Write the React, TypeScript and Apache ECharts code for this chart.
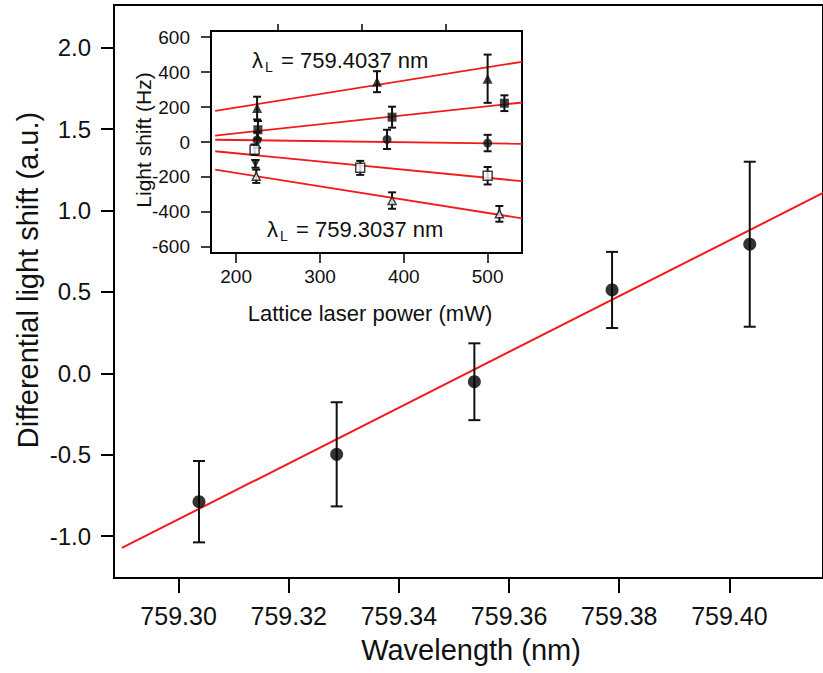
import React, { useEffect, useRef } from "react";
import * as echarts from "echarts";

// ---- Main plot data ----
const mainWavelength = [759.3037, 759.3287, 759.3537, 759.3787, 759.4037];
const mainShift = [-0.789, -0.498, -0.052, 0.512, 0.793];
const mainErr = [0.25, 0.32, 0.236, 0.234, 0.507];
const fitWavelength = [759.2897, 759.417];
const fitShift = [-1.073, 1.108];
const mainXTicks = [759.3, 759.32, 759.34, 759.36, 759.38, 759.4];
const mainYTicks = [-1.0, -0.5, 0.0, 0.5, 1.0, 1.5, 2.0];

// ---- Inset data: [power mW, shift Hz, error Hz] ----
const insetA = [[225, 194, 65], [368, 345, 60], [500, 362, 138]]; // filled triangles (759.4037 nm)
const insetB = [[226, 70, 50], [386, 142, 60], [520, 222, 45]]; // filled squares
const insetC = [[225, 12, 45], [380, 15, 55], [500, -6, 47]]; // filled circles
const insetD = [[222, -44, 30], [348, -148, 40], [500, -193, 50]]; // open squares
const insetE = [[224, -196, 38], [386, -335, 47], [514, -411, 45]]; // open triangles (759.3037 nm)
const insetF = [[223, -125, 22]]; // down triangle
const fitPower = [175, 541];
const fitA = [178, 459];
const fitB = [37, 226];
const fitC = [13, -10];
const fitD = [-53, -224];
const fitE = [-158, -437];
const insetXTicks = [200, 300, 400, 500];
const insetXMinor = [250, 350, 450];
const insetYTicks = [-600, -400, -200, 0, 200, 400, 600];

const FONT = "Liberation Sans, Arial, sans-serif";
const RED = "#f21a1a";
const INK = "#111";

function errBars(capHalf: number, lw: number) {
  return (params: any, api: any) => {
    const x = api.value(0);
    const y = api.value(1);
    const e = api.value(2);
    const top = api.coord([x, y + e]);
    const bot = api.coord([x, y - e]);
    const style = { stroke: INK, lineWidth: lw };
    return {
      type: "group",
      children: [
        { type: "line", shape: { x1: top[0], y1: top[1], x2: bot[0], y2: bot[1] }, style },
        { type: "line", shape: { x1: top[0] - capHalf, y1: top[1], x2: top[0] + capHalf, y2: top[1] }, style },
        { type: "line", shape: { x1: bot[0] - capHalf, y1: bot[1], x2: bot[0] + capHalf, y2: bot[1] }, style },
      ],
    };
  };
}

const pair = (xs: number[], ys: number[]) => xs.map((x, i) => [x, ys[i]]);

export default function App() {
  const ref = useRef<HTMLDivElement>(null);
  useEffect(() => {
    if (!ref.current) return;
    const chart = echarts.init(ref.current, null, { renderer: "svg" });

    const insetSeries = (data: number[][], symbol: string, filled: boolean, size: number, rotate = 0) => [
      {
        type: "custom",
        xAxisIndex: 1,
        yAxisIndex: 1,
        renderItem: errBars(4, 2),
        data,
        encode: { x: 0, y: 1 },
        z: 5,
      },
      {
        type: "scatter",
        xAxisIndex: 1,
        yAxisIndex: 1,
        symbol,
        symbolSize: size,
        symbolRotate: rotate,
        data: data.map((d) => [d[0], d[1]]),
        itemStyle: filled
          ? { color: INK }
          : { color: "#fff", borderColor: INK, borderWidth: 1.5 },
        z: 6,
      },
    ];
    const fitLine = (ys: number[]) => ({
      type: "line",
      xAxisIndex: 1,
      yAxisIndex: 1,
      data: pair(fitPower, ys),
      symbol: "none",
      lineStyle: { color: RED, width: 1.8 },
      z: 4,
    });

    const tickLabelStyle = { color: INK, fontFamily: FONT };

    chart.setOption({
      animation: false,
      backgroundColor: "#fff",
      grid: [
        { left: 114, top: 5, right: -10, bottom: 95, show: true, borderColor: "#000", borderWidth: 2 },
        { left: 211, top: 31, width: 311, height: 222, show: true, borderColor: "#000", borderWidth: 2, backgroundColor: "#fff" },
      ],
      xAxis: [
        {
          type: "value",
          gridIndex: 0,
          min: 759.28827,
          max: 759.417,
          axisLine: { show: true, onZero: false, lineStyle: { color: "#000", width: 2 } },
          axisTick: { show: true, inside: false, length: 15, lineStyle: { color: "#000", width: 2 }, customValues: mainXTicks },
          axisLabel: { ...tickLabelStyle, fontSize: 25, margin: 25, customValues: mainXTicks, formatter: (v: number) => v.toFixed(2) },
          splitLine: { show: false },
        },
        {
          type: "value",
          gridIndex: 1,
          min: 170,
          max: 541,
          axisLine: { show: true, onZero: false, lineStyle: { color: "#000", width: 2 } },
          axisTick: { show: true, inside: false, length: 10, lineStyle: { color: "#000", width: 1.5 }, customValues: insetXTicks },
          axisLabel: { ...tickLabelStyle, fontSize: 19, margin: 14, customValues: insetXTicks },
          splitLine: { show: false },
        },
        {
          type: "value",
          gridIndex: 1,
          min: 170,
          max: 541,
          axisLine: { show: false, onZero: false },
          axisTick: { show: true, inside: false, length: 7, lineStyle: { color: "#000", width: 1.5 }, customValues: insetXMinor },
          axisLabel: { show: false },
          splitLine: { show: false },
        },
      ],
      yAxis: [
        {
          type: "value",
          gridIndex: 0,
          min: -1.258,
          max: 2.263,
          axisLine: { show: true, onZero: false, lineStyle: { color: "#000", width: 2 } },
          axisTick: { show: true, inside: false, length: 13, lineStyle: { color: "#000", width: 2 }, customValues: mainYTicks },
          axisLabel: { ...tickLabelStyle, fontSize: 24, margin: 23, customValues: mainYTicks, formatter: (v: number) => v.toFixed(1) },
          splitLine: { show: false },
        },
        {
          type: "value",
          gridIndex: 1,
          min: -635,
          max: 635,
          axisLine: { show: true, onZero: false, lineStyle: { color: "#000", width: 2 } },
          axisTick: { show: true, inside: false, length: 10, lineStyle: { color: "#000", width: 1.5 }, customValues: insetYTicks },
          axisLabel: { ...tickLabelStyle, fontSize: 19, margin: 21, customValues: insetYTicks },
          splitLine: { show: false },
        },
      ],
      series: [
        {
          type: "line",
          data: pair(fitWavelength, fitShift),
          symbol: "none",
          lineStyle: { color: RED, width: 2 },
          z: 3,
        },
        {
          type: "custom",
          renderItem: errBars(6, 2),
          data: mainWavelength.map((x, i) => [x, mainShift[i], mainErr[i]]),
          encode: { x: 0, y: 1 },
          z: 4,
        },
        {
          type: "scatter",
          data: pair(mainWavelength, mainShift),
          symbol: "circle",
          symbolSize: 13,
          itemStyle: { color: "#000" },
          z: 5,
        },
        fitLine(fitA),
        fitLine(fitB),
        fitLine(fitC),
        fitLine(fitD),
        fitLine(fitE),
        ...insetSeries(insetA, "triangle", true, 10),
        ...insetSeries(insetB, "rect", true, 9),
        ...insetSeries(insetC, "circle", true, 9),
        ...insetSeries(insetD, "rect", false, 9),
        ...insetSeries(insetE, "triangle", false, 8),
        ...insetSeries(insetF, "triangle", true, 9, 180),
      ],
      graphic: [
        {
          type: "text",
          x: 28,
          y: 280,
          rotation: Math.PI / 2,
          z: 100,
          style: { text: "Differential light shift (a.u.)", fontSize: 29, fontFamily: FONT, fill: INK, align: "center", verticalAlign: "middle" },
        },
        {
          type: "text",
          x: 471,
          y: 650,
          z: 100,
          style: { text: "Wavelength (nm)", fontSize: 29, fontFamily: FONT, fill: INK, align: "center", verticalAlign: "middle" },
        },
        {
          type: "text",
          x: 143,
          y: 140,
          rotation: Math.PI / 2,
          z: 100,
          style: { text: "Light shift (Hz)", fontSize: 21, fontFamily: FONT, fill: INK, align: "center", verticalAlign: "middle" },
        },
        {
          type: "text",
          x: 370,
          y: 313,
          z: 100,
          style: { text: "Lattice laser power (mW)", fontSize: 22, fontFamily: FONT, fill: INK, align: "center", verticalAlign: "middle" },
        },
        { type: "text", x: 252, y: 60, z: 100, style: { text: "λ", fontSize: 22, fontFamily: FONT, fill: INK, align: "left", verticalAlign: "middle" } },
        { type: "text", x: 265, y: 67, z: 100, style: { text: "L", fontSize: 14, fontFamily: FONT, fill: INK, align: "left", verticalAlign: "middle" } },
        { type: "text", x: 281, y: 60, z: 100, style: { text: "= 759.4037 nm", fontSize: 22, fontFamily: FONT, fill: INK, align: "left", verticalAlign: "middle" } },
        { type: "text", x: 267, y: 229, z: 100, style: { text: "λ", fontSize: 22, fontFamily: FONT, fill: INK, align: "left", verticalAlign: "middle" } },
        { type: "text", x: 280, y: 236, z: 100, style: { text: "L", fontSize: 14, fontFamily: FONT, fill: INK, align: "left", verticalAlign: "middle" } },
        { type: "text", x: 296, y: 229, z: 100, style: { text: "= 759.3037 nm", fontSize: 22, fontFamily: FONT, fill: INK, align: "left", verticalAlign: "middle" } },
      ],
    });
    return () => chart.dispose();
  }, []);
  return <div ref={ref} style={{ position: "fixed", left: 0, top: 0, width: 823, height: 673 }} />;
}
